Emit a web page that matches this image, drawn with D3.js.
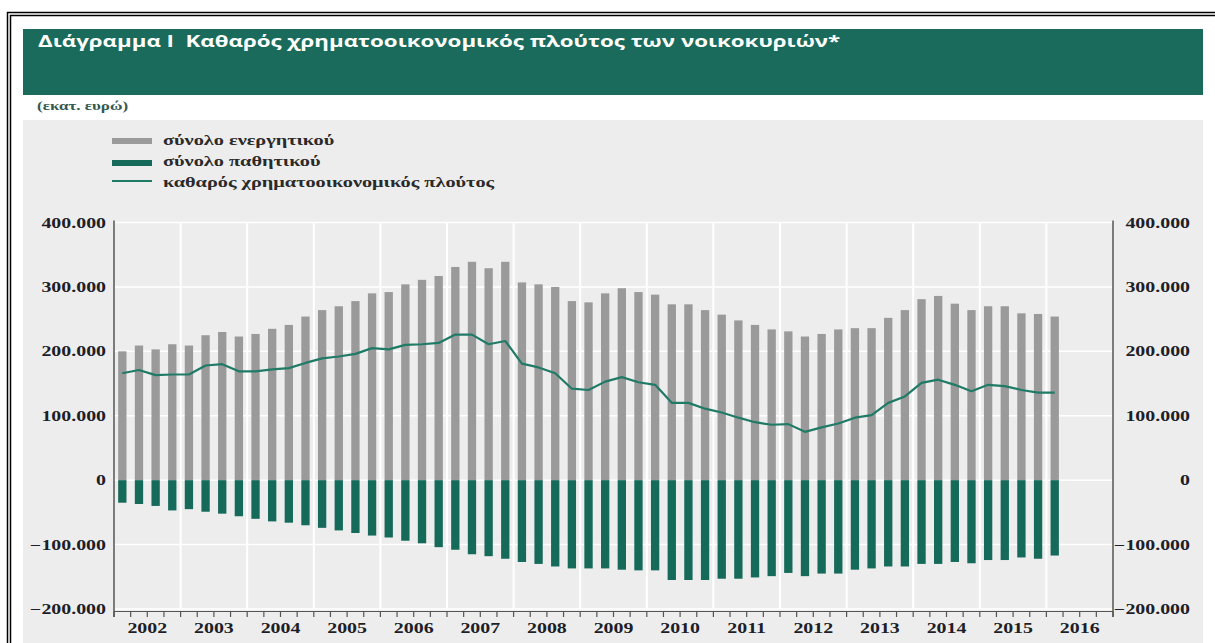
<!DOCTYPE html>
<html>
<head>
<meta charset="utf-8">
<script src="https://cdn.jsdelivr.net/npm/d3@7"></script>
<style>
  body { margin: 0; background: #fff; }
  svg { display: block; }
</style>
</head>
<body>
<div id="chart"></div>
<script>
// tick labels and categories
var years = ["2002", "2003", "2004", "2005", "2006", "2007", "2008", "2009",
             "2010", "2011", "2012", "2013", "2014", "2015", "2016"];
var quarters = years.flatMap(function(y) { return ["Q1", "Q2", "Q3", "Q4"].map(function(q) { return y + q; }); });
var yTicks = [-200000, -100000, 0, 100000, 200000, 300000, 400000];

// series, thousand million euro, 2002Q1 .. 2016Q1
var assets = [200, 209, 203, 211, 209, 225, 230, 223, 227, 235, 241, 254, 264, 270, 278, 290,
              292, 304, 311, 317, 331, 339, 329, 339, 307, 304, 300, 278, 276, 290, 298, 292,
              288, 273, 273, 264, 257, 248, 241, 234, 231, 223, 227, 234, 236, 236, 252, 264,
              281, 286, 274, 264, 270, 270, 259, 258, 254];
var liabilities = [-35, -37, -40, -47, -45, -49, -52, -56, -60, -64, -66, -70, -74, -78, -82, -86,
                   -89, -94, -98, -104, -108, -115, -118, -122, -127, -130, -134, -137, -137, -137, -139, -140,
                   -140, -155, -155, -155, -153, -153, -151, -149, -144, -149, -145, -145, -139, -137, -134, -134,
                   -130, -130, -127, -129, -124, -124, -120, -122, -117];
var netWealth = [166, 171, 163, 164, 164, 178, 180, 169, 169, 172, 174, 182, 189, 192, 196, 205,
                 203, 210, 211, 213, 226, 226, 211, 216, 181, 175, 166, 142, 140, 153, 160, 152,
                 148, 120, 120, 111, 105, 97, 90, 86, 87, 75, 82, 88, 97, 101, 120, 130,
                 151, 156, 148, 138, 148, 146, 140, 136, 136];

var legendLabels = ["σύνολο ενεργητικού", "σύνολο παθητικού", "καθαρός χρηματοοικονομικός πλούτος"];
var titleText = "Διάγραμμα Ι  Καθαρός χρηματοοικονομικός πλούτος των νοικοκυριών*";
var unitText = "(εκατ. ευρώ)";

var GREY = "#9a9a9a", GREEN = "#166a5a", LINE = "#1f7a66", BANNER = "#1a6b5c";
var SX = 1.42; // the picture is stretched horizontally
var SERIF = "'Liberation Serif', 'Times New Roman', serif";

var W = 1215, H = 643;
var plotL = 114, plotR = 1113, plotT = 222.5, plotB = 609;

var svg = d3.select("#chart").append("svg")
  .attr("width", W)
  .attr("height", H);

// stretched text helper
function stxt(g, x, y, str, anchor) {
  return g.append("text")
    .attr("transform", "translate(" + x + "," + y + ") scale(" + SX + ",1)")
    .attr("text-anchor", anchor || "start")
    .style("white-space", "pre")
    .text(str);
}

// outer double frame
svg.append("path").attr("d", "M7.5,643 V12.5 H1215").attr("fill", "none").attr("stroke", "#000").attr("stroke-width", 1.5);
svg.append("path").attr("d", "M10.5,643 V15.5 H1215").attr("fill", "none").attr("stroke", "#000").attr("stroke-width", 1.5);

// title banner
svg.append("rect").attr("x", 23).attr("y", 29).attr("width", 1180).attr("height", 66).attr("fill", BANNER);
stxt(svg, 38, 47, titleText)
  .attr("fill", "#fff")
  .style("font-family", "'Open Sans', sans-serif")
  .style("font-weight", "bold")
  .style("font-size", "15.7px");

stxt(svg, 37, 110, unitText)
  .attr("fill", "#35584f")
  .style("font-family", SERIF)
  .style("font-weight", "bold")
  .style("font-size", "12px");

// plot background
svg.append("rect").attr("x", 23).attr("y", 120).attr("width", 1180).attr("height", H - 120).attr("fill", "#ededed");

// scales
var x = d3.scaleBand().domain(quarters).range([plotL, plotR]).paddingInner(0.5).paddingOuter(0.25);
var xq = d3.scaleLinear().domain([0, quarters.length]).range([plotL, plotR]);
var y = d3.scaleLinear().domain([-200000, 400000]).range([plotB, plotT]);

var plot = svg.append("g");

// horizontal grid
plot.selectAll(".hgrid").data(yTicks).enter().append("line")
  .attr("x1", plotL).attr("x2", plotR)
  .attr("y1", function(d) { return y(d); }).attr("y2", function(d) { return y(d); })
  .attr("stroke", "#fff").attr("stroke-width", 1.5);

// vertical year grid
plot.selectAll(".vgrid").data(years.slice(1)).enter().append("line")
  .attr("x1", function(d, i) { return xq((i + 1) * 4); })
  .attr("x2", function(d, i) { return xq((i + 1) * 4); })
  .attr("y1", plotT).attr("y2", plotB)
  .attr("stroke", "#fff").attr("stroke-width", 2);

// bars
plot.selectAll(".asset").data(assets).enter().append("rect")
  .attr("x", function(d, i) { return x(quarters[i]); })
  .attr("width", x.bandwidth())
  .attr("y", function(d) { return y(d * 1000); })
  .attr("height", function(d) { return y(0) - y(d * 1000); })
  .attr("fill", GREY);

plot.selectAll(".liab").data(liabilities).enter().append("rect")
  .attr("x", function(d, i) { return x(quarters[i]); })
  .attr("width", x.bandwidth())
  .attr("y", y(0))
  .attr("height", function(d) { return y(d * 1000) - y(0); })
  .attr("fill", GREEN);

// net wealth line
var line = d3.line()
  .x(function(d, i) { return x(quarters[i]) + x.bandwidth() / 2; })
  .y(function(d) { return y(d * 1000); });

plot.append("path").datum(netWealth)
  .attr("d", line)
  .attr("fill", "none")
  .attr("stroke", LINE)
  .attr("stroke-width", 2.2)
  .attr("stroke-linejoin", "round");

// axes lines
var axisCol = "#555";
plot.append("line").attr("x1", plotL).attr("x2", plotL).attr("y1", plotT - 2).attr("y2", plotB + 8).attr("stroke", axisCol).attr("stroke-width", 1.5);
plot.append("line").attr("x1", plotR).attr("x2", plotR).attr("y1", plotT - 2).attr("y2", plotB + 8).attr("stroke", axisCol).attr("stroke-width", 1.5);
plot.append("line").attr("x1", plotL).attr("x2", plotR).attr("y1", plotB + 2.5).attr("y2", plotB + 2.5).attr("stroke", axisCol).attr("stroke-width", 1.2);
plot.selectAll(".qtick").data(d3.range(quarters.length + 1)).enter().append("line")
  .attr("x1", function(d) { return xq(d); }).attr("x2", function(d) { return xq(d); })
  .attr("y1", plotB + 2.5).attr("y2", plotB + 8)
  .attr("stroke", axisCol).attr("stroke-width", 1.2);

var fmt = function(d) { return d3.format(",")(d).replace(/,/g, "."); };
var labelStyle = function(sel) {
  sel.attr("fill", "#1e1e28")
    .style("font-family", SERIF)
    .style("font-weight", "bold")
    .style("font-size", "14px");
};

yTicks.forEach(function(t) {
  stxt(svg, 106, y(t) + 5, fmt(t), "end").call(labelStyle);
  stxt(svg, 1190, y(t) + 5, fmt(t), "end").call(labelStyle);
});

years.forEach(function(yr, i) {
  stxt(svg, xq(i * 4 + 2), 633, yr, "middle").call(labelStyle);
});

// legend
var leg = svg.append("g");
leg.append("rect").attr("x", 112).attr("y", 138).attr("width", 40).attr("height", 6).attr("fill", GREY);
leg.append("rect").attr("x", 112).attr("y", 160).attr("width", 40).attr("height", 6).attr("fill", GREEN);
leg.append("line").attr("x1", 112).attr("x2", 152).attr("y1", 181).attr("y2", 181).attr("stroke", LINE).attr("stroke-width", 2);
legendLabels.forEach(function(l, i) {
  stxt(leg, 163, 145 + i * 21, l)
    .attr("fill", "#2a2a2a")
    .style("font-family", SERIF)
    .style("font-weight", "bold")
    .style("font-size", "14.3px");
});
</script>
</body>
</html>
